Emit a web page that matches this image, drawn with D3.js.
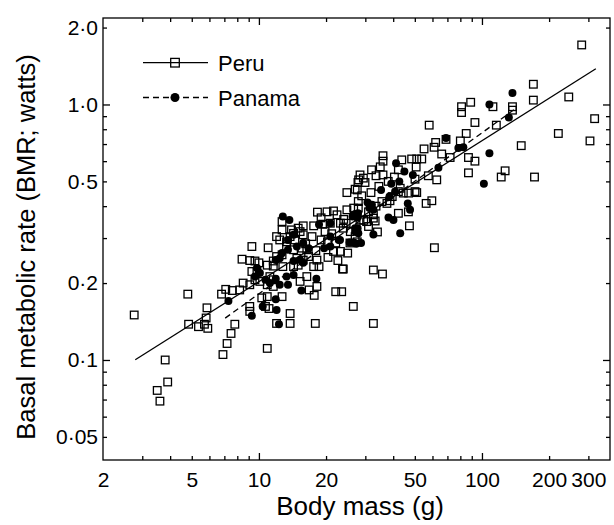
<!DOCTYPE html>
<html><head><meta charset="utf-8">
<script src="https://cdn.jsdelivr.net/npm/d3@7"></script>
<style>body{margin:0;background:#fff}svg{display:block}text{font-family:"Liberation Sans",Arial,sans-serif;fill:#000}</style>
</head><body>
<script>
// ---- data ----
const peruMass = [2.76,3.8,3.9,3.5,3.6,4.8,4.84,5.36,5.7,5.9,5.85,5.8,6.9,7.2,7.5,7.8,10.9,12.0,13.8,17.9,
6.8,7.1,7.6,8.2,9.3,11.0,8.4,9.1,9.6,10.0,8.5,9.1,12.7,12.7,18.3,20.2,21.6,22.4,24.8,26.6,
27.6,12.7,13.8,16.8,17.7,23.9,23.5,26.5,24.6,23.2,19.3,17.6,20.9,14.3,15.3,15.8,14.5,13.8,13.3,17.3,
19.0,20.3,22.1,21.6,23.2,18.2,16.7,15.8,14.8,17.6,18.6,16.4,15.3,11.6,11.2,10.9,11.6,9.8,9.3,10.1,
9.6,10.3,10.9,10.7,11.1,9.1,9.1,12.8,15.0,14.3,14.3,15.6,16.4,14.0,15.0,15.8,12.4,12.0,13.3,12.7,
11.6,12.0,10.9,11.6,22.1,18.2,25.7,27.0,23.9,25.6,27.6,
81,81,89,112,137,137,170,245,320,220,305,150,172,122,127,87,87,93,116,93,85,80,58,62,69,61,55,
36,36,35,32,36,33.5,29.4,27.8,29.9,27.0,24.8,28.9,27.9,27.9,32.6,43.7,48.4,51,53.7,50.7,42.2,57.5,62.7,
50.1,43,51,59.6,56.2,42.2,47.3,38.7,33.2,46.8,61.2,23.7,32.6,35.8,32.6,31,34,280,170,28.4,30.4,32.6,
35.6,37.5,39.6,42.2,44.4,46.9,50.1,27.6,28.0,28.4,
19.8,21.2,16.2,18.0,20.4,22.6,25.0,29.5,31.0,33.5,31.8,34.5,38.0,40.5,66,72,19.0,24.0];
const peruBMR = [0.15,0.10,0.082,0.076,0.069,0.181,0.138,0.135,0.138,0.133,0.16,0.146,0.105,0.116,0.127,0.138,0.111,0.139,0.139,0.139,
0.181,0.189,0.187,0.188,0.278,0.275,0.248,0.245,0.244,0.24,0.2,0.197,0.348,0.323,0.379,0.38,0.383,0.37,0.387,0.393,
0.37,0.177,0.152,0.188,0.179,0.227,0.185,0.162,0.343,0.343,0.34,0.335,0.343,0.313,0.318,0.309,0.295,0.304,0.29,0.304,
0.295,0.29,0.287,0.266,0.266,0.246,0.254,0.246,0.25,0.232,0.232,0.212,0.203,0.206,0.212,0.197,0.194,0.222,0.222,0.203,
0.206,0.175,0.177,0.162,0.159,0.162,0.155,0.232,0.235,0.232,0.27,0.274,0.27,0.323,0.328,0.335,0.295,0.304,0.278,0.258,
0.244,0.254,0.235,0.233,0.185,0.194,0.318,0.304,0.328,0.287,0.29,
0.98,0.93,1.02,0.98,0.98,0.95,1.04,1.07,0.88,0.77,0.72,0.69,0.52,0.52,0.55,0.54,0.62,0.60,0.83,0.85,0.77,0.72,0.83,0.71,0.73,0.68,0.67,
0.63,0.60,0.57,0.555,0.53,0.526,0.515,0.495,0.495,0.466,0.452,0.439,0.417,0.393,0.37,0.607,0.612,0.612,0.612,0.569,0.555,0.526,0.507,
0.51,0.47,0.452,0.42,0.41,0.375,0.335,0.42,0.35,0.38,0.275,0.227,0.225,0.217,0.139,0.333,0.317,1.71,1.2,0.353,0.348,0.359,
0.417,0.41,0.436,0.456,0.45,0.45,0.456,0.463,0.507,0.53,
0.318,0.312,0.285,0.268,0.252,0.245,0.262,0.352,0.38,0.40,0.452,0.478,0.50,0.52,0.64,0.62,0.36,0.355];
const panamaMass = [7.3,9.3,10.4,12.0,11.9,12.3,18.1,15.5,13.5,14.3,14.8,15.8,16.7,13.5,12.7,11.9,12.4,15.3,14.3,15.8,
9.8,10.1,9.6,10.7,11.2,11.9,13.3,14.3,12.4,13.5,18.6,20.9,22.8,20.9,19.6,20.9,26.6,27.6,27,27.9,
25.5,27.3,137,108,132,108,102,69,78.4,82.5,63.8,41.2,44.9,49,42.6,39.2,35.3,38.5,40.8,30.7,
32.1,31.3,27.8,46.5,47.6,38.1,40.1,43,32.6,26.6,28.7,23.1,27,27.7,26.3,31.6,32.6,12.8,13.7];
const panamaBMR = [0.17,0.149,0.162,0.157,0.173,0.138,0.208,0.187,0.295,0.309,0.278,0.287,0.274,0.27,0.262,0.246,0.25,0.246,0.244,0.24,
0.229,0.219,0.212,0.206,0.2,0.208,0.212,0.215,0.197,0.197,0.339,0.343,0.295,0.304,0.274,0.278,0.37,0.36,0.328,0.313,
0.288,0.285,1.11,1.0,0.89,0.645,0.49,0.74,0.675,0.68,0.566,0.589,0.546,0.53,0.50,0.49,0.463,0.436,0.456,0.413,
0.405,0.393,0.375,0.41,0.387,0.361,0.353,0.313,0.31,0.288,0.287,0.295,0.318,0.328,0.364,0.398,0.387,0.364,0.353];
// fitted log10 regressions
const fitNames = ["Peru","Panama"];
const fitIntercept = [-1.245,-1.371];
const fitSlope = [0.5515,0.63];
const fitMin = [2.79,7.06];
const fitMax = [324,140];
// ticks
const xLabelTicks = [2,5,10,20,50,100,200,300];
const xMinorTicks = [3,4,5,6,7,8,9,20,30,40,50,60,70,80,90,200,300];
const xMajorTicks = [10,100];
const yLabelTicks = [0.05,0.1,0.2,0.5,1.0,2.0];
const yLabelText = ["0·05","0·1","0·2","0·5","1·0","2·0"];
const yMinorTicks = [0.05,0.06,0.07,0.08,0.09,0.2,0.3,0.4,0.5,0.6,0.7,0.8,0.9,2.0];
const yMajorTicks = [0.1,1.0];

// ---- layout ----
const W=614,H=525, L=103, R=610, T=18, B=460;
const svg=d3.select("body").append("svg").attr("width",W).attr("height",H);
const x=d3.scaleLog().domain([2,375]).range([L,R]);
const y=d3.scaleLog().domain([0.0406,2.18]).range([B,T]);
const sw=1.3;
const FF='"Liberation Sans",Arial,sans-serif';

function tickAxis(axisFn, scale, vals, size, tx, ty){
  const g=svg.append("g").attr("transform",`translate(${tx},${ty})`)
    .call(axisFn(scale).tickValues(vals).tickSize(size).tickSizeOuter(0).tickFormat(""));
  g.select(".domain").remove();
  g.selectAll("line").attr("stroke","#000").attr("stroke-width",sw);
}
// inward ticks on all four sides
tickAxis(d3.axisBottom,x,xMinorTicks,-4,0,B);
tickAxis(d3.axisBottom,x,xMajorTicks,-7,0,B);
tickAxis(d3.axisTop,x,xMinorTicks,-4,0,T);
tickAxis(d3.axisTop,x,xMajorTicks,-7,0,T);
tickAxis(d3.axisLeft,y,yMinorTicks,-4,L,0);
tickAxis(d3.axisLeft,y,yMajorTicks,-7,L,0);
tickAxis(d3.axisRight,y,yMinorTicks,-4,R,0);
tickAxis(d3.axisRight,y,yMajorTicks,-7,R,0);

// labels
const gx=svg.append("g").attr("transform",`translate(0,${B})`)
  .call(d3.axisBottom(x).tickValues(xLabelTicks).tickSize(0).tickPadding(12).tickFormat(d=>String(d)));
gx.select(".domain").remove();
gx.selectAll("text").style("font-size","21px").style("font-family",FF);
const gy=svg.append("g").attr("transform",`translate(${L},0)`)
  .call(d3.axisLeft(y).tickValues(yLabelTicks).tickSize(0).tickPadding(5).tickFormat((d,i)=>yLabelText[i]));
gy.select(".domain").remove();
gy.selectAll("text").style("font-size","21px").style("font-family",FF);

// frame
svg.append("rect").attr("x",L).attr("y",T).attr("width",R-L).attr("height",B-T)
  .attr("fill","none").attr("stroke","#000").attr("stroke-width",sw);

// axis titles
svg.append("text").attr("x",360).attr("y",515).attr("text-anchor","middle")
  .style("font-size","26px").text("Body mass (g)");
svg.append("text").attr("transform","translate(35,247) rotate(-90)").attr("text-anchor","middle")
  .style("font-size","25.5px").text("Basal metabolic rate (BMR; watts)");

// regression lines
fitNames.forEach((n,i)=>{
  const pts=[fitMin[i],fitMax[i]].map(m=>[m,Math.pow(10,fitIntercept[i]+fitSlope[i]*Math.log10(m))]);
  svg.append("path").attr("d",d3.line().x(d=>x(d[0])).y(d=>y(d[1]))(pts))
    .attr("fill","none").attr("stroke","#000").attr("stroke-width",sw)
    .attr("stroke-dasharray",i===1?"6,4":null);
});

// points
const s=7.6;
svg.append("g").selectAll("rect").data(d3.range(peruMass.length)).join("rect")
  .attr("x",i=>x(peruMass[i])-s/2).attr("y",i=>y(peruBMR[i])-s/2)
  .attr("width",s).attr("height",s).attr("fill","none").attr("stroke","#000").attr("stroke-width",sw);
svg.append("g").selectAll("circle").data(d3.range(panamaMass.length)).join("circle")
  .attr("cx",i=>x(panamaMass[i])).attr("cy",i=>y(panamaBMR[i])).attr("r",4).attr("fill","#000");

// legend
const lg=svg.append("g");
[[62.7,"Peru"],[97.5,"Panama"]].forEach(([ly,lab],i)=>{
  lg.append("line").attr("x1",143).attr("x2",208).attr("y1",ly).attr("y2",ly)
    .attr("stroke","#000").attr("stroke-width",sw).attr("stroke-dasharray",i===1?"6,4":null);
  if(i===0) lg.append("rect").attr("x",175-s/2-0.5).attr("y",ly-s/2-0.5).attr("width",s+1).attr("height",s+1)
    .attr("fill","none").attr("stroke","#000").attr("stroke-width",sw);
  else lg.append("circle").attr("cx",175).attr("cy",ly).attr("r",4.5).attr("fill","#000");
  lg.append("text").attr("x",218).attr("y",ly+8).style("font-size","22px").text(lab);
});
</script>
</body></html>
